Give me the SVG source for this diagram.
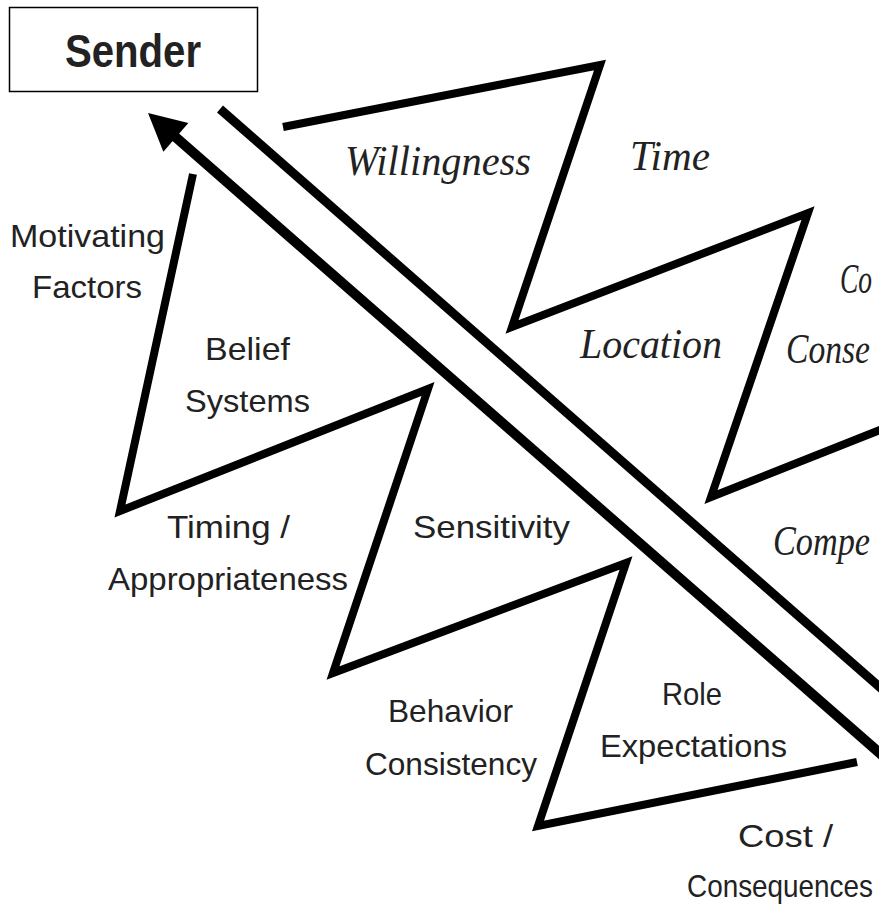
<svg xmlns="http://www.w3.org/2000/svg" width="879" height="911" viewBox="0 0 879 911">
<style>
.zz{fill:none;stroke:#000;stroke-width:8;stroke-linejoin:miter;stroke-miterlimit:10}
.lbl{font-family:"Liberation Sans","DejaVu Sans",sans-serif;font-size:32px;fill:#222}
.scr{font-family:"Liberation Serif","DejaVu Serif",serif;font-style:italic;font-size:42px;fill:#222}
.box{fill:#fff;stroke:#000;stroke-width:1.5}
</style>
<defs>
<marker id="ah" markerUnits="userSpaceOnUse" markerWidth="60" markerHeight="60" refX="0" refY="0" viewBox="-20 -30 60 60" orient="auto">
<polygon points="-7,-19 30,0 -7,19" fill="#000"/>
</marker>
</defs>
<rect width="879" height="911" fill="#fff"/>
<g id="sender">
<rect class="box" x="9.5" y="7.5" width="248" height="84"/>
<text x="65" y="67" font-family="Liberation Sans, DejaVu Sans, sans-serif" font-size="46" font-weight="bold" fill="#222" textLength="136" lengthAdjust="spacingAndGlyphs">Sender</text>
</g>
<g id="connectors">
<line x1="883" y1="756" x2="170.6" y2="132.8" stroke="#000" stroke-width="10" marker-end="url(#ah)"/>
<line x1="220" y1="109" x2="883" y2="690" stroke="#000" stroke-width="9"/>
</g>
<g id="upper-zigzag">
<polyline class="zz" points="283,127 600,65 512,327 808,213 711,497 885,428"/>
</g>
<g id="lower-zigzag">
<polyline class="zz" points="193,174 120,511 428,389 333,673 626,563 538,826 857,762"/>
</g>
<g id="willingness"><text class="scr" x="345" y="175" textLength="186" lengthAdjust="spacingAndGlyphs">Willingness</text></g>
<g id="time"><text class="scr" x="630" y="170" textLength="80" lengthAdjust="spacingAndGlyphs">Time</text></g>
<g id="co"><text class="scr" x="840" y="293" font-size="48" textLength="32" lengthAdjust="spacingAndGlyphs">Co</text></g>
<g id="location"><text class="scr" x="580" y="358" textLength="142" lengthAdjust="spacingAndGlyphs">Location</text></g>
<g id="conse"><text class="scr" x="786" y="363" textLength="84" lengthAdjust="spacingAndGlyphs">Conse</text></g>
<g id="compe"><text class="scr" x="773" y="555" textLength="97" lengthAdjust="spacingAndGlyphs">Compe</text></g>
<g id="motivating-factors">
<text class="lbl" x="10" y="247" textLength="155" lengthAdjust="spacingAndGlyphs">Motivating</text>
<text class="lbl" x="32" y="298" textLength="110" lengthAdjust="spacingAndGlyphs">Factors</text>
</g>
<g id="belief-systems">
<text class="lbl" x="205" y="360" textLength="85" lengthAdjust="spacingAndGlyphs">Belief</text>
<text class="lbl" x="185" y="412" textLength="125" lengthAdjust="spacingAndGlyphs">Systems</text>
</g>
<g id="timing">
<text class="lbl" x="167" y="538" textLength="123" lengthAdjust="spacingAndGlyphs">Timing /</text>
<text class="lbl" x="108" y="590" textLength="240" lengthAdjust="spacingAndGlyphs">Appropriateness</text>
</g>
<g id="sensitivity">
<text class="lbl" x="413" y="538" textLength="157" lengthAdjust="spacingAndGlyphs">Sensitivity</text>
</g>
<g id="behavior-consistency">
<text class="lbl" x="388" y="722" textLength="125" lengthAdjust="spacingAndGlyphs">Behavior</text>
<text class="lbl" x="365" y="775" textLength="172" lengthAdjust="spacingAndGlyphs">Consistency</text>
</g>
<g id="role-expectations">
<text class="lbl" x="662" y="705" textLength="60" lengthAdjust="spacingAndGlyphs">Role</text>
<text class="lbl" x="600" y="757" textLength="187" lengthAdjust="spacingAndGlyphs">Expectations</text>
</g>
<g id="cost-consequences">
<text class="lbl" x="738" y="847" textLength="95" lengthAdjust="spacingAndGlyphs">Cost /</text>
<text class="lbl" x="687" y="897" textLength="186" lengthAdjust="spacingAndGlyphs">Consequences</text>
</g>
</svg>
